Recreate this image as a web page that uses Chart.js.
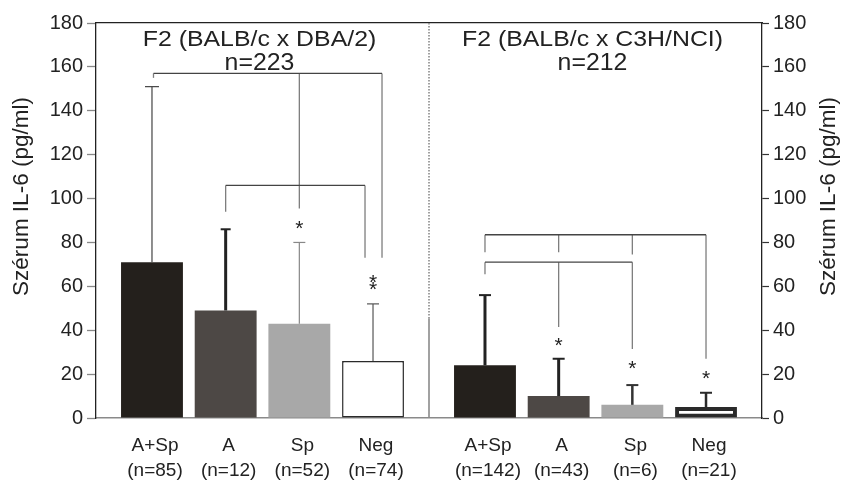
<!DOCTYPE html>
<html>
<head>
<meta charset="utf-8">
<script src="https://cdn.jsdelivr.net/npm/chart.js@4.4.1/dist/chart.umd.min.js"></script>
<style>
  html, body { margin: 0; padding: 0; background: #fff; }
  #wrap { width: 843px; height: 484px; }
</style>
</head>
<body>
<div id="wrap"><canvas id="il6Chart" width="843" height="484"></canvas></div>
<script>
// two crosses, four groups each
const panels = ["F2 (BALB/c x DBA/2)", "F2 (BALB/c x C3H/NCI)"];
const panelN = ["n=223", "n=212"];
const groups = ["A+Sp", "A", "Sp", "Neg"];
const groupN = [[85, 12, 52, 74], [142, 43, 6, 21]];

// mean IL-6, [DBA/2 panel, C3H/NCI panel]
const meanASp = [71, 24];
const meanA = [49, 10];
const meanSp = [43, 6];
const meanNeg = [26, 5];

// top of the error bar (mean + SD)
const errASp = [151, 56];
const errA = [86, 27];
const errSp = [80, 15];
const errNeg = [52, 11.5];

const yTicks = [0, 20, 40, 60, 80, 100, 120, 140, 160, 180];

// significance brackets: bar groups joined, height of the bar line, where each leg stops
const brackets = [
  { panel: 0, groups: [0, 2, 3], top: 157, ends: [155, 95.5, 73] },
  { panel: 0, groups: [1, 3], top: 106, ends: [94, 73] },
  { panel: 1, groups: [0, 1, 2, 3], top: 83.5, ends: [75.5, 75.5, 74.5, 27] },
  { panel: 1, groups: [0, 1, 2], top: 71, ends: [65.5, 41.5, 31.5] }
];
// stars above bars (value of each star)
const stars = [
  [[], [], [87.5], [63, 59.5]],
  [[], [34], [23.5], [19]]
];
// the separator is dotted above this value
const sepSolidTo = 45.5;

// styling only
const barColors = ["#24201c", "#4d4845", "#a8a8a8", "#ffffff"];
const legShift = [[1.5, 0, 9], [0, -8], [0, 0, 0, 0], [0, 0, 0]];
const errStyle = [
  [{ w: 1.2, c: "#444", cap: 7 }, { w: 3, c: "#222", cap: 5 }, { w: 1.2, c: "#888", cap: 6 }, { w: 1.2, c: "#555", cap: 6 }],
  [{ w: 3, c: "#222", cap: 6 }, { w: 3, c: "#222", cap: 6 }, { w: 2.5, c: "#333", cap: 6 }, { w: 2.5, c: "#2a2a2a", cap: 6 }]
];
const FONT = "'Liberation Sans', Arial, Helvetica, sans-serif";
const TEXT = "#222";

const means = [meanASp, meanA, meanSp, meanNeg];
const errTops = [errASp, errA, errSp, errNeg];

const overlay = {
  id: "overlay",
  afterDatasetsDraw(chart) {
    const ctx = chart.ctx;
    const area = chart.chartArea;
    const x = chart.scales.x;
    const y = chart.scales.y;
    const barX = (g, p) => chart.getDatasetMeta(g).data[p].x;

    ctx.save();

    // panel separator
    const sepX = (x.getPixelForValue(0) + x.getPixelForValue(1)) / 2;
    ctx.strokeStyle = "#8a8a8a";
    ctx.lineWidth = 1.6;
    ctx.setLineDash([1.5, 1.5]);
    ctx.beginPath();
    ctx.moveTo(sepX, area.top);
    ctx.lineTo(sepX, y.getPixelForValue(sepSolidTo));
    ctx.stroke();
    ctx.setLineDash([]);
    ctx.beginPath();
    ctx.moveTo(sepX, y.getPixelForValue(sepSolidTo));
    ctx.lineTo(sepX, area.bottom);
    ctx.stroke();

    // error bars
    for (let g = 0; g < groups.length; g++) {
      for (let p = 0; p < panels.length; p++) {
        const st = errStyle[p][g];
        const bx = barX(g, p);
        const y0 = y.getPixelForValue(means[g][p]);
        const y1 = y.getPixelForValue(errTops[g][p]);
        ctx.strokeStyle = st.c;
        ctx.lineWidth = st.w;
        ctx.beginPath();
        ctx.moveTo(bx, y0);
        ctx.lineTo(bx, y1);
        ctx.stroke();
        ctx.lineWidth = Math.min(st.w, 2);
        ctx.beginPath();
        ctx.moveTo(bx - st.cap, y1);
        ctx.lineTo(bx + st.cap, y1);
        ctx.stroke();
      }
    }

    // brackets
    brackets.forEach((b, i) => {
      const xs = b.groups.map((g, k) => barX(g, b.panel) + legShift[i][k]);
      const yTop = y.getPixelForValue(b.top);
      ctx.lineWidth = 1.3;
      ctx.strokeStyle = "#7d7d7d";
      xs.forEach((lx, k) => {
        ctx.beginPath();
        ctx.moveTo(lx, yTop);
        ctx.lineTo(lx, y.getPixelForValue(b.ends[k]));
        ctx.stroke();
      });
      ctx.strokeStyle = "#444";
      ctx.beginPath();
      ctx.moveTo(xs[0], yTop);
      ctx.lineTo(xs[xs.length - 1], yTop);
      ctx.stroke();
    });

    // stars
    ctx.fillStyle = TEXT;
    ctx.font = "21px " + FONT;
    ctx.textAlign = "center";
    ctx.textBaseline = "alphabetic";
    for (let p = 0; p < panels.length; p++) {
      for (let g = 0; g < groups.length; g++) {
        stars[p][g].forEach(v => {
          ctx.fillText("*", barX(g, p), y.getPixelForValue(v) + 9);
        });
      }
    }

    // panel titles (the original lettering is a little wide)
    ctx.textBaseline = "middle";
    for (let p = 0; p < panels.length; p++) {
      const cx = x.getPixelForValue(p) - 3;
      ctx.font = "22px " + FONT;
      ctx.save();
      ctx.translate(cx, area.top + 17);
      ctx.scale(1.13, 1);
      ctx.fillText(panels[p], 0, 0);
      ctx.restore();
      ctx.font = "23px " + FONT;
      ctx.save();
      ctx.translate(cx, area.top + 41);
      ctx.scale(1.08, 1);
      ctx.fillText(panelN[p], 0, 0);
      ctx.restore();
    }

    // group labels under each bar
    ctx.font = "19px " + FONT;
    for (let p = 0; p < panels.length; p++) {
      for (let g = 0; g < groups.length; g++) {
        const bx = barX(g, p) + 3;
        ctx.fillText(groups[g], bx, area.bottom + 28);
        ctx.fillText("(n=" + groupN[p][g] + ")", bx, area.bottom + 53);
      }
    }

    // axis titles, both read bottom to top
    ctx.font = "22.5px " + FONT;
    [22, 829].forEach(tx => {
      ctx.save();
      ctx.translate(tx, (area.top + area.bottom) / 2 - 24);
      ctx.rotate(-Math.PI / 2);
      ctx.fillText("Szérum IL-6 (pg/ml)", 0, 0);
      ctx.restore();
    });

    ctx.restore();
  }
};

const datasets = groups.map((name, g) => ({
  label: name,
  data: means[g],
  backgroundColor: barColors[g],
  borderColor: "#2a2a2a",
  borderWidth: g === 3 ? (c => (c.dataIndex === 0 ? 1.5 : 4)) : 0,
  borderSkipped: g === 3 ? false : "start",
  categoryPercentage: 0.885,
  barPercentage: 0.84
}));

const tickFont = { family: FONT, size: 20 };

new Chart(document.getElementById("il6Chart"), {
  type: "bar",
  data: { labels: panels, datasets: datasets },
  options: {
    responsive: false,
    animation: false,
    layout: { padding: { left: 6, top: 23, right: 0, bottom: 66 } },
    plugins: { legend: { display: false }, tooltip: { enabled: false } },
    scales: {
      x: {
        position: "bottom",
        grid: { display: false },
        ticks: { display: false },
        border: { color: "#8a8a8a", width: 1.5 },
        afterFit: s => { s.height = 0; }
      },
      xTop: {
        type: "category",
        position: "top",
        grid: { display: false },
        ticks: { display: false },
        border: { color: "#222", width: 1.3 },
        afterFit: s => { s.height = 0; }
      },
      y: {
        position: "left",
        min: 0,
        max: 180,
        afterBuildTicks: s => { s.ticks = yTicks.map(v => ({ value: v })); },
        ticks: { font: tickFont, color: TEXT, padding: 4 },
        grid: { drawOnChartArea: false, tickLength: 9, color: "#888", tickWidth: 1.3 },
        border: { color: "#222", width: 1.3 },
        afterFit: s => { s.width = 90; }
      },
      y2: {
        position: "right",
        min: 0,
        max: 180,
        afterBuildTicks: s => { s.ticks = yTicks.map(v => ({ value: v })); },
        ticks: { font: tickFont, color: TEXT, padding: 4 },
        grid: { drawOnChartArea: false, tickLength: 7, color: "#333", tickWidth: 1.2 },
        border: { color: "#222", width: 1.3 },
        afterFit: s => { s.width = 81; }
      }
    }
  },
  plugins: [overlay]
});
</script>
</body>
</html>
